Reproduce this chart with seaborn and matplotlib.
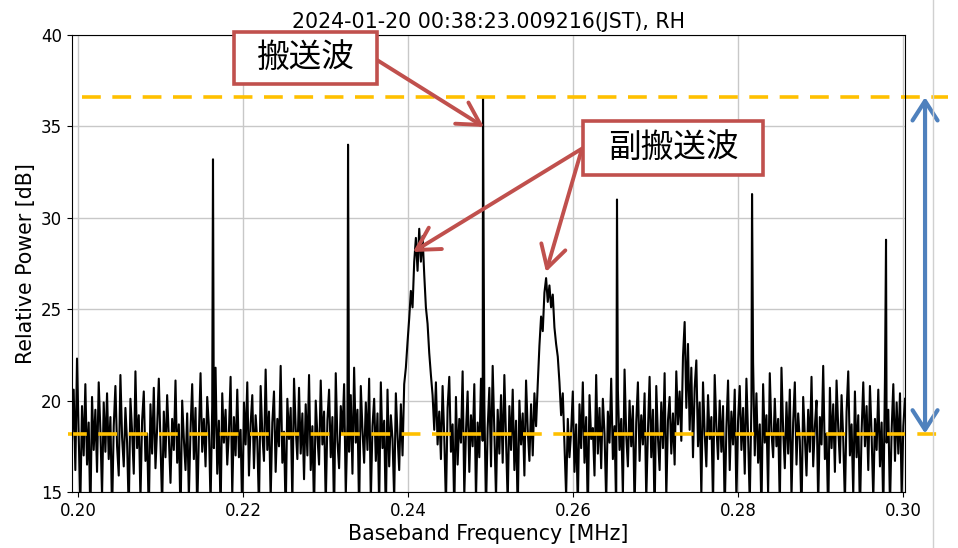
import numpy as np
import pandas as pd
import seaborn as sns
import matplotlib.pyplot as plt
from matplotlib.patches import Rectangle
from matplotlib.lines import Line2D

# スペクトル (RH)

f_start = 0.19927
f_stop = 0.30024

# baseband noise floor + sidebands (dB)
noise_db = [
    17.8, 20.6, 16.2, 22.3, 18.1, 14.4, 19.7, 17.0, 20.9, 16.5, 18.8, 13.6, 20.2, 17.3, 19.5, 16.1, 21.0, 18.4, 14.8, 19.9,
    17.2, 20.4, 16.8, 19.1, 13.8, 18.6, 20.8, 17.5, 15.9, 21.4, 18.0, 16.4, 19.6, 17.7, 13.9, 20.1, 18.3, 16.0, 21.6, 17.4,
    19.2, 14.6, 18.9, 20.5, 16.7, 18.2, 13.7, 19.8, 17.1, 20.7, 16.3, 18.5, 21.2, 17.6, 14.2, 19.4, 16.9, 20.3, 18.0, 15.5,
    19.0, 17.3, 21.1, 16.6, 18.7, 13.5, 20.0, 17.9, 16.2, 19.3, 14.7, 18.4, 20.9, 16.8, 19.6, 13.9, 18.1, 21.5, 17.2, 19.0,
    16.4, 20.2, 18.6, 14.3, 19.7, 17.4, 21.8, 16.0, 18.9, 13.8, 20.4, 17.7, 19.5, 16.5, 18.3, 21.3, 14.8, 19.1, 17.0, 20.6,
    16.9, 18.4, 13.6, 19.9, 17.6, 21.0, 15.9, 18.7, 20.3, 16.3, 19.2, 17.8, 14.1, 20.8, 18.2, 16.7, 21.7, 17.3, 19.4, 14.6,
    18.8, 20.5, 16.1, 19.0, 17.5, 21.9, 16.6, 18.3, 13.7, 20.1, 17.9, 19.6, 14.4, 21.2, 18.5, 16.8, 20.7, 17.1, 19.3, 15.7,
    19.8, 17.0, 21.4, 16.2, 18.6, 13.9, 20.0, 18.1, 16.5, 21.1, 17.6, 19.4, 14.3, 18.9, 20.6, 16.9, 19.1, 13.6, 21.5, 17.8,
    16.3, 19.7, 18.2, 20.9, 14.8, 18.7, 17.2, 20.3, 16.0, 21.8, 17.7, 19.5, 13.8, 20.8, 18.4, 16.6, 19.9, 17.3, 21.2, 14.5,
    18.6, 20.1, 16.7, 19.3, 14.2, 21.0, 17.4, 18.9, 13.7, 20.6, 16.4, 19.2, 17.9, 14.6, 20.4, 18.1, 16.2, 19.8, 17.0, 20.9,
    21.8, 23.2, 24.5, 26.0, 25.1, 27.6, 28.9, 27.1, 29.4, 27.6, 29.0, 26.9, 25.1, 24.2, 22.6, 21.4, 20.3, 18.4, 21.0, 17.6,
    19.4, 16.8, 20.8, 18.0, 14.3, 19.6, 21.3, 17.2, 18.7, 13.9, 20.2, 16.5, 19.0, 17.7, 21.6, 14.8, 18.3, 20.5, 16.1, 19.2,
    17.5, 20.9, 14.6, 18.8, 16.9, 21.2, 17.8, 19.9, 14.0, 18.5, 20.7, 16.4, 21.9, 18.2, 14.7, 19.5, 17.1, 20.3, 16.6, 21.4,
    18.0, 14.4, 19.7, 17.3, 20.6, 16.2, 18.9, 13.8, 20.0, 17.6, 19.3, 15.9, 21.1, 18.4, 16.7, 19.8, 17.0, 20.4, 18.6, 20.9,
    23.0, 24.6, 23.8, 25.9, 26.7, 25.4, 26.3, 25.1, 25.8, 24.0, 23.1, 22.4, 21.0, 19.2, 20.4, 17.6, 14.8, 19.0, 16.9, 18.3,
    20.5, 16.1, 18.7, 14.2, 19.8, 17.4, 21.0, 16.6, 19.1, 13.7, 20.3, 17.9, 18.5, 15.9, 21.4, 17.1, 19.6, 16.3, 20.1, 18.2,
    14.5, 19.4, 17.7, 21.2, 16.8, 18.6, 13.9, 20.6, 17.3, 19.0, 14.8, 21.7, 18.1, 16.4, 20.0, 17.5, 19.7, 14.1, 18.8, 21.0,
    16.7, 19.2, 17.6, 20.4, 14.6, 18.3, 21.3, 16.9, 19.5, 13.6, 20.8, 18.0, 16.2, 19.9, 17.4, 21.5, 14.7, 18.9, 20.2, 17.1,
    19.3, 16.5, 21.6, 18.7, 20.5, 17.8, 22.4, 24.3, 19.6, 23.1, 18.4, 21.8, 16.9, 20.7, 22.2, 17.5, 19.9, 14.8, 21.0, 18.2,
    16.4, 20.3, 17.9, 19.1, 14.3, 21.4, 18.6, 16.8, 20.0, 17.2, 19.7, 13.9, 18.5, 21.1, 16.2, 19.4, 17.6, 20.6, 14.6, 18.9,
    20.8, 17.3, 19.6, 16.0, 21.2, 18.1, 14.4, 19.8, 22.1, 17.0, 20.4, 16.6, 18.7, 13.8, 20.9, 17.7, 19.2, 14.9, 21.5, 18.3,
    16.9, 20.1, 17.5, 19.0, 14.2, 21.8, 18.4, 16.3, 19.9, 17.1, 20.6, 14.7, 18.8, 21.0, 16.5, 19.3, 17.8, 13.7, 20.2, 18.0,
    15.9, 19.5, 17.2, 21.3, 16.4, 18.6, 20.0, 14.3, 19.1, 17.6, 21.9, 16.8, 18.2, 13.6, 20.7, 17.4, 19.8, 16.1, 21.1, 18.5,
    16.6, 20.3, 17.9, 14.4, 19.4, 21.6, 17.0, 18.7, 14.8, 20.5, 16.9, 19.2, 13.8, 18.3, 21.0, 17.5, 19.7, 16.2, 20.8, 18.1,
    14.6, 19.0, 17.3, 20.6, 16.4, 18.8, 13.9, 21.2, 17.7, 19.5, 14.2, 18.4, 20.9, 16.7, 19.9, 17.1, 20.4, 14.8, 18.6, 20.1,
]

# line spectra (carrier at 0.249 MHz)
spike_freq = [0.21636, 0.23273, 0.24909, 0.26533, 0.28170, 0.29794]
spike_db = [33.2, 34.0, 36.6, 31.0, 31.3, 28.8]

carrier_level = 36.6
floor_level = 18.2

title = "2024-01-20 00:38:23.009216(JST), RH"

freq = np.linspace(f_start, f_stop, len(noise_db))
df = pd.DataFrame({
    "freq": np.concatenate([freq, spike_freq]),
    "db": np.concatenate([noise_db, spike_db]),
}).sort_values("freq")

plt.rcParams["font.family"] = ["DejaVu Sans", "Noto Sans CJK JP"]

W, H = 958, 548
fig = plt.figure(figsize=(W / 100, H / 100), dpi=100)
ax = fig.add_axes([72 / W, 1 - 492 / H, 833 / W, 457 / H])


def px(x, y):
    # figure pixels (from top-left) -> figure fraction
    return (x / W, 1 - y / H)


sns.lineplot(data=df, x="freq", y="db", color="black", lw=1.5,
             estimator=None, sort=False, ax=ax)

ax.set_xlim(f_start, f_stop)
ax.set_ylim(15, 40)
ax.set_xticks([0.20, 0.22, 0.24, 0.26, 0.28, 0.30])
ax.set_xticklabels(["0.20", "0.22", "0.24", "0.26", "0.28", "0.30"])
ax.set_yticks([15, 20, 25, 30, 35, 40])
ax.tick_params(labelsize=12)
ax.grid(True, color="#c8c8c8", lw=1)
ax.set_axisbelow(True)
ax.set_xlabel("Baseband Frequency [MHz]", fontsize=14.8, labelpad=3)
ax.set_ylabel("Relative Power [dB]", fontsize=14.8)
ax.set_title(title, fontsize=14.8, pad=5)

# carrier level / noise floor
ax.plot([0.2005, 0.30545], [carrier_level] * 2, color="#ffc000", lw=2.6,
        ls=(0, (5.2, 3.2)), clip_on=False)
ax.plot([0.19879, 0.30461], [floor_level] * 2, color="#ffc000", lw=2.6,
        ls=(0, (5.2, 3.2)), clip_on=False)

ax.annotate("", xy=(0.30267, floor_level), xytext=(0.30267, carrier_level),
            arrowprops=dict(arrowstyle="<->,head_length=0.7,head_width=0.45",
                            color="#4f81bd", lw=3, mutation_scale=20,
                            shrinkA=0, shrinkB=0),
            annotation_clip=False)

red = "#c0504d"
boxes = [("搬送波", 234, 32, 377, 84), ("副搬送波", 583, 121, 763, 175)]
for label, x0, y0, x1, y1 in boxes:
    fig.add_artist(Rectangle(px(x0, y1), (x1 - x0) / W, (y1 - y0) / H,
                             transform=fig.transFigure, facecolor="white",
                             edgecolor=red, lw=2.6, zorder=5))
    fig.text(*px((x0 + x1) / 2, (y0 + y1) / 2), label, ha="center", va="center",
             fontsize=23.5, family=["Noto Sans CJK JP", "DejaVu Sans"], zorder=6)

arrows = [((377, 60), (484, 127)), ((583, 148), (413, 252)), ((581, 152), (546, 272))]
for (sx, sy), (tx, ty) in arrows:
    ax.annotate("", xy=px(tx, ty), xytext=px(sx, sy),
                xycoords="figure fraction", textcoords="figure fraction",
                arrowprops=dict(arrowstyle="->,head_length=0.8,head_width=0.45",
                                color=red, lw=2.8, mutation_scale=20,
                                shrinkA=0, shrinkB=0),
                annotation_clip=False, zorder=4)

fig.add_artist(Line2D([933 / W, 933 / W], [0, 1], transform=fig.transFigure,
                      color="#d0d0d0", lw=1))

fig.savefig("out.png", dpi=100)
